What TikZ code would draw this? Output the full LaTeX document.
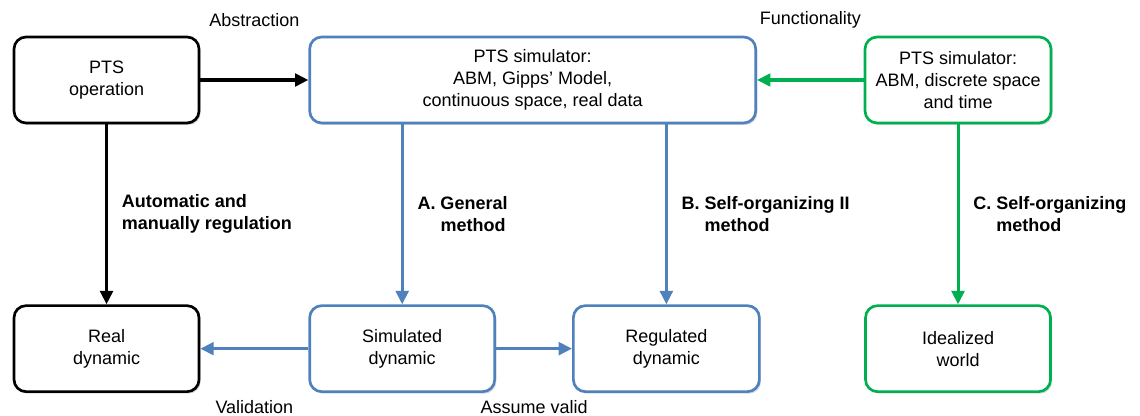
\documentclass[tikz,border=0pt]{standalone}
\usepackage{fontspec}
\setmainfont{Liberation Sans}
\usetikzlibrary{positioning,arrows.meta,shadows}
\definecolor{ptsblue}{RGB}{79,129,189}
\definecolor{ptsgreen}{RGB}{0,176,80}

\begin{document}
\begin{tikzpicture}[node distance=135pt,
    font=\fontsize{13.5}{16.5}\selectfont,
    main node/.style={rectangle,rounded corners=9pt,draw,line width=2pt,fill=white,align=center,
      minimum width=138.75pt,minimum height=64.5pt,
      drop shadow={shadow xshift=1.2pt,shadow yshift=-1.5pt,opacity=0.3}},
    black node/.style={main node,draw=black},
    blue node/.style={main node,draw=ptsblue},
    green node/.style={main node,draw=ptsgreen},
    conn/.style={-{Triangle[length=10pt,width=9.5pt]},line width=2.3pt},
    bold label/.style={right=7pt,align=left,black,font=\fontsize{13.5}{16.5}\selectfont\bfseries}]

  \useasboundingbox (0,0) rectangle (855pt,-312pt);

  \node[black node] (op) at (79.9pt,-60pt) {PTS\\operation};
  \node[blue node, minimum width=334.5pt] (sim) [right=81pt of op] {PTS simulator:\\ABM, Gipps’ Model,\\continuous space, real data};
  \node[green node, minimum width=139.5pt] (func) [right=80pt of sim] {PTS simulator:\\ABM, discrete space\\and time};

  \node[black node] (real) [below=of op] {Real\\dynamic};
  \node[blue node] (simd) [below right=135pt and 0pt of sim.south west] {Simulated\\dynamic};
  \node[blue node, minimum width=139.5pt] (reg) [right=57pt of simd] {Regulated\\dynamic};
  \node[green node] (ideal) [below=of func] {Idealized\\world};

  \draw[conn] (op) -- node[yshift=45pt] {Abstraction} (sim);
  \draw[conn, ptsgreen] (func) -- node[yshift=45pt, black] {Functionality} (sim);

  \draw[conn] (op) -- node[bold label] {Automatic and\\manually regulation} (real);
  \draw[conn, ptsblue] (sim.south -| simd) -- node[bold label] {A. General\\\hphantom{A.\ }method} (simd);
  \draw[conn, ptsblue] (sim.south -| reg) -- node[bold label] {B. Self-organizing II\\\hphantom{B.\ }method} (reg);
  \draw[conn, ptsgreen] (func) -- node[bold label] {C. Self-organizing\\\hphantom{C.\ }method} (ideal);

  \draw[conn, ptsblue] (simd) -- node[yshift=-43.5pt, black] {Validation} (real);
  \draw[conn, ptsblue] (simd) -- node[yshift=-43.5pt, black] {Assume valid} (reg);
\end{tikzpicture}
\end{document}
